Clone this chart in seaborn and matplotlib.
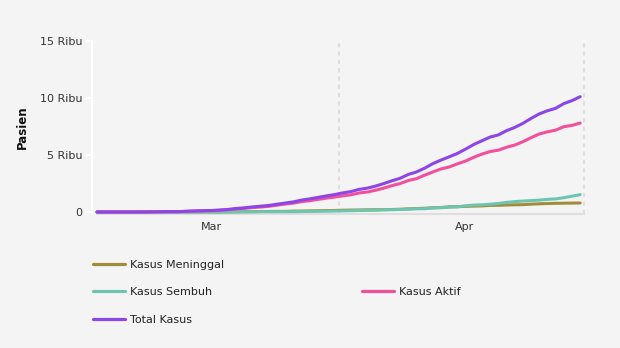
import numpy as np
import pandas as pd
import matplotlib
matplotlib.use("Agg")
import matplotlib.pyplot as plt
import matplotlib.dates as mdates
from matplotlib.lines import Line2D
import seaborn as sns

# ---- data (Mar 2 .. Apr 30, 2020) ----
start_date = "2020-03-02 12:00"
total_kasus = [2, 2, 2, 2, 4, 4, 6, 19, 27, 34,
               34, 69, 96, 117, 134, 172, 227, 311, 369, 450,
               514, 579, 686, 790, 893, 1046, 1155, 1285, 1414, 1528,
               1677, 1790, 1986, 2092, 2273, 2491, 2738, 2956, 3293, 3512,
               3842, 4241, 4557, 4839, 5136, 5516, 5923, 6248, 6575, 6760,
               7135, 7418, 7775, 8211, 8607, 8882, 9096, 9511, 9771, 10118]
kasus_meninggal = [0, 0, 0, 0, 0, 0, 0, 0, 0, 1,
                   1, 4, 5, 5, 5, 5, 19, 25, 32, 38,
                   48, 49, 55, 58, 78, 87, 102, 114, 122, 136,
                   157, 170, 181, 191, 198, 209, 221, 240, 280, 306,
                   327, 373, 399, 459, 469, 496, 520, 535, 582, 590,
                   616, 635, 647, 689, 720, 743, 765, 773, 784, 792]
kasus_sembuh = [0, 0, 0, 0, 0, 0, 0, 0, 2, 2,
                3, 5, 8, 8, 8, 9, 11, 15, 16, 20,
                29, 30, 30, 31, 35, 46, 59, 64, 75, 81,
                103, 112, 134, 150, 164, 192, 204, 222, 252, 282,
                286, 359, 380, 426, 446, 548, 607, 631, 686, 747,
                842, 913, 960, 1002, 1042, 1107, 1151, 1254, 1391, 1522]
kasus_aktif = [2, 2, 2, 2, 4, 4, 6, 19, 25, 31,
               30, 60, 83, 104, 121, 158, 197, 271, 321, 392,
               437, 500, 601, 701, 780, 913, 994, 1107, 1217, 1311,
               1417, 1508, 1671, 1751, 1911, 2090, 2313, 2494, 2761, 2924,
               3229, 3509, 3778, 3954, 4221, 4472, 4796, 5082, 5307, 5423,
               5677, 5870, 6168, 6520, 6845, 7032, 7180, 7484, 7596, 7804]
series_names = ["Kasus Meninggal", "Kasus Sembuh", "Kasus Aktif", "Total Kasus"]
series_colors = ["#a08d3c", "#6dc5b1", "#f24f9c", "#8c45e8"]
y_ticks = [0, 5000, 10000, 15000]
y_tick_labels = ["0", "5 Ribu", "10 Ribu", "15 Ribu"]
month_labels = ["Mar", "Apr"]

dates = pd.date_range(start_date, periods=len(total_kasus), freq="D")
df = pd.concat([
    pd.DataFrame({"date": dates, "value": vals, "series": name})
    for name, vals in zip(series_names,
                          [kasus_meninggal, kasus_sembuh, kasus_aktif, total_kasus])
])

bg = "#f4f4f4"
sns.set_theme(style="white")
plt.rcParams["font.family"] = ["DejaVu Sans"]

fig = plt.figure(figsize=(6.2, 3.48), dpi=100, facecolor=bg)
ax = fig.add_axes([92 / 620, (348 - 213.5) / 348, (595 - 92) / 620, (213.5 - 41) / 348])
ax.set_facecolor(bg)

palette = dict(zip(series_names, series_colors))
sns.lineplot(data=df, x="date", y="value", hue="series", hue_order=series_names,
             palette=palette, linewidth=2.2, ax=ax, legend=False, zorder=3)

# x limits: pixel mapping
px_per_day = 8.19
d0 = mdates.date2num(dates[0])
left = d0 - (97 - 92) / px_per_day
right = left + (595 - 92) / px_per_day
ax.set_xlim(left, right)
ax.set_ylim(-130, 15000)

# month boundaries as major ticks (grid), mid-months as labels
month_starts = [mdates.date2num(pd.Timestamp(s)) for s in ["2020-04-01", "2020-05-01"]]
ax.set_xticks(month_starts)
ax.set_xticklabels([])
mids = [mdates.date2num(pd.Timestamp("2020-03-01")) + 15.5,
        mdates.date2num(pd.Timestamp("2020-04-01")) + 15.4]
ax.set_xticks(mids, minor=True)
ax.set_xticklabels(month_labels, minor=True)
ax.tick_params(axis="x", which="major", length=4, width=1.5, color="#dedede", direction="out")
ax.tick_params(axis="x", which="minor", length=0, labelsize=8, labelcolor="#333333", pad=6)
ax.xaxis.grid(True, which="major", color="#dedede", linestyle=(0, (2, 2)), linewidth=1.5)

ax.set_yticks(y_ticks)
ax.set_yticklabels(y_tick_labels)
ax.tick_params(axis="y", length=4, width=1.5, color="white", labelsize=8,
               labelcolor="#333333", pad=3, left=True)
ax.set_ylabel("Pasien", fontsize=8.5, fontweight="bold", color="#111111", labelpad=8)
ax.set_xlabel("")

for s in ["top", "right"]:
    ax.spines[s].set_visible(False)
ax.spines["left"].set_color("white")
ax.spines["left"].set_linewidth(1.5)
ax.spines["left"].set_bounds(-130, 15000)
ax.spines["bottom"].set_color("#dedede")
ax.spines["bottom"].set_linewidth(1.5)
ax.spines["bottom"].set_bounds(d0, month_starts[-1])

# legend: 2 columns, column-major with blanks
h = {n: Line2D([], [], color=c, linewidth=2.3) for n, c in zip(series_names, series_colors)}
blank = Line2D([], [], color="none")
handles = [h["Kasus Meninggal"], h["Kasus Sembuh"], h["Total Kasus"], blank, h["Kasus Aktif"], blank]
labels = ["Kasus Meninggal", "Kasus Sembuh", "Total Kasus", "", "Kasus Aktif", ""]
fig.legend(handles, labels, loc="upper left", bbox_to_anchor=(93 / 620, 1 - 259.5 / 348),
           ncol=2, frameon=False, fontsize=8, handlelength=2.9, handletextpad=0.45,
           columnspacing=12.4, labelspacing=1.6, borderpad=0, borderaxespad=0,
           labelcolor="#222222")

fig.savefig("out.png", dpi=100, facecolor=bg)
